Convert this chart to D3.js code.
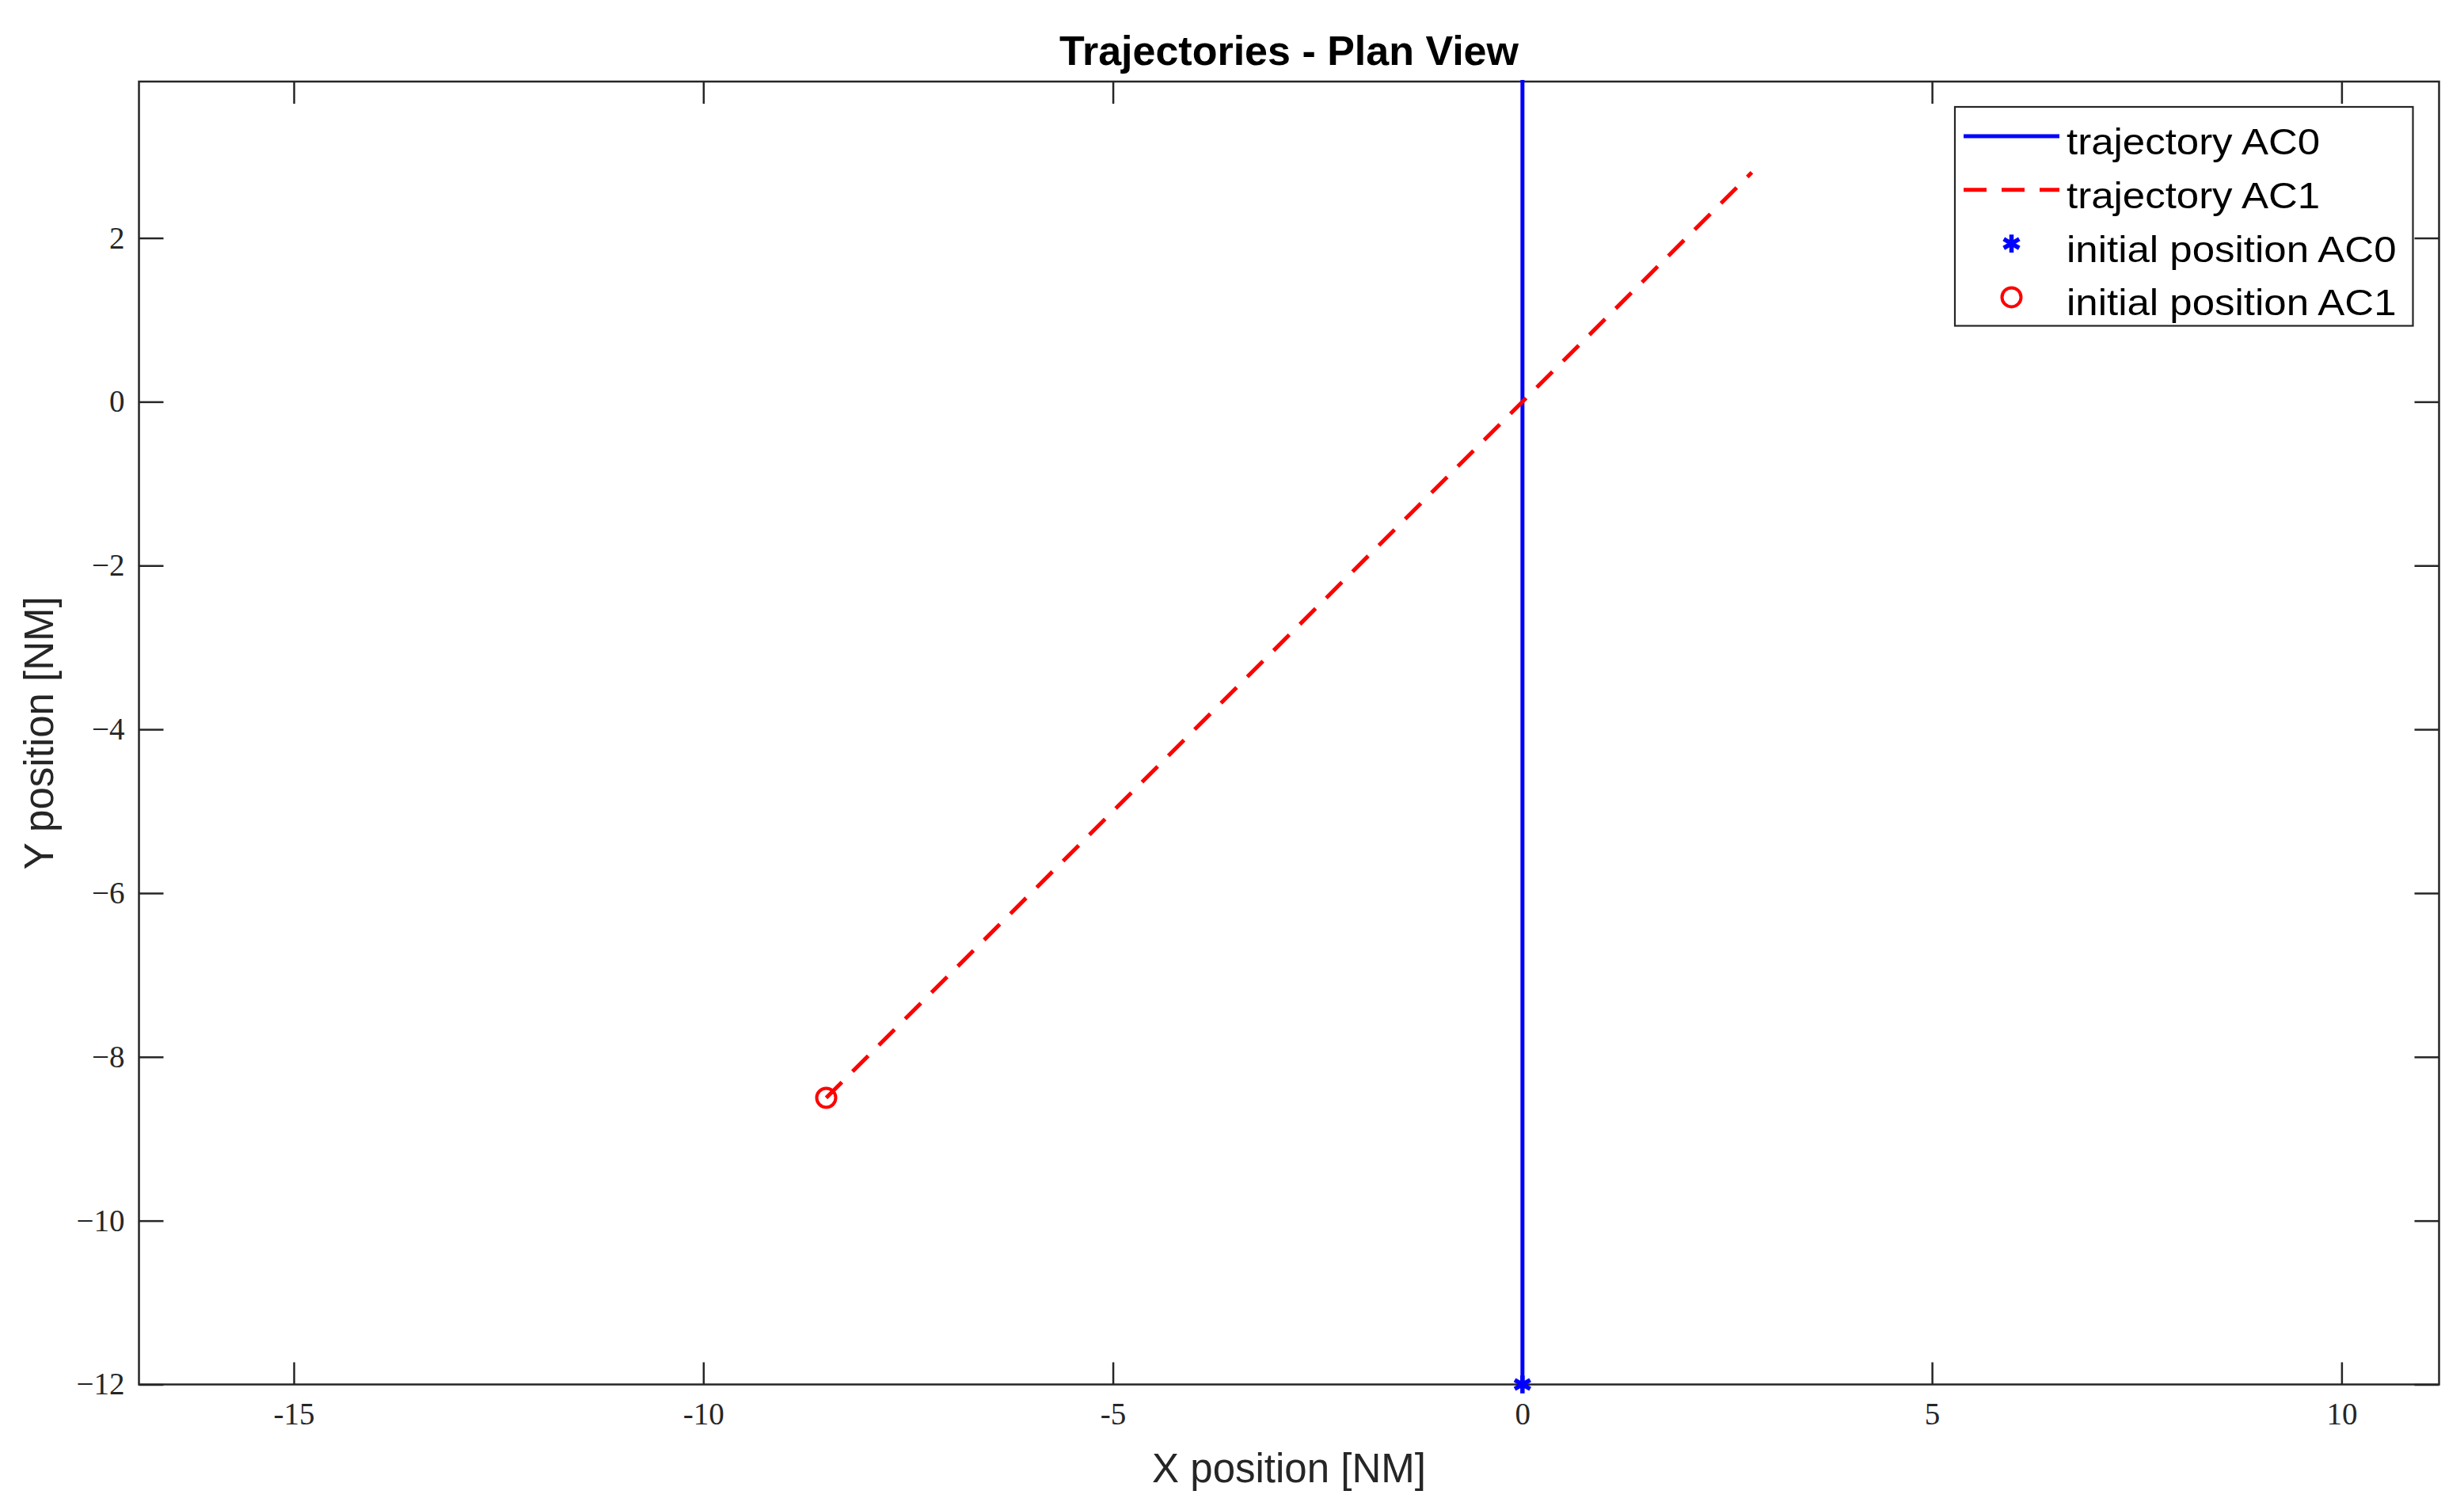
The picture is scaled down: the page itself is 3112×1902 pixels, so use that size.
<!DOCTYPE html>
<html><head><meta charset="utf-8">
<script src="https://cdn.jsdelivr.net/npm/d3@7"></script>
<style>body{margin:0;background:#fff} svg{display:block}</style>
</head><body>
<svg id="c" width="3112" height="1902"></svg>
<script>
// ---- data ----
const chartTitle = "Trajectories - Plan View";
const xLabel = "X position [NM]";
const yLabel = "Y position [NM]";
const xLimits = [-16.89, 11.19];
const yLimits = [-12, 3.91];
const xTicks = [-15, -10, -5, 0, 5, 10];
const yTicks = [-12, -10, -8, -6, -4, -2, 0, 2];
const ac0X = [0, 0];
const ac0Y = [-12, 4];
const ac1X = [-8.5, 2.8];
const ac1Y = [-8.5, 2.8];
const legendLabels = ["trajectory AC0", "trajectory AC1", "initial position AC0", "initial position AC1"];

// ---- layout ----
const m = {left: 175.5, right: 3080.5, top: 103, bottom: 1748.5};
const axisColor = "#262626";
const x = d3.scaleLinear().domain(xLimits).range([m.left, m.right]);
const y = d3.scaleLinear().domain(yLimits).range([m.bottom, m.top]);
const svg = d3.select("#c");

svg.append("rect").attr("width", 3112).attr("height", 1902).attr("fill", "#fff");

const fmtX = d => (d < 0 ? "-" : "") + Math.abs(d);
const fmtY = d => (d < 0 ? "\u2212" : "") + Math.abs(d);

function styleAxis(g) {
  g.select(".domain").remove();
  g.selectAll(".tick line").attr("stroke", axisColor).attr("stroke-width", 2.5);
  g.selectAll(".tick text").attr("fill", axisColor)
    .style("font-family", "'Liberation Serif', 'DejaVu Serif', serif").style("font-size", "39px");
}
svg.append("g").attr("transform", `translate(0,${m.bottom})`)
  .call(d3.axisBottom(x).tickValues(xTicks).tickSize(-28).tickSizeOuter(0).tickPadding(23).tickFormat(fmtX))
  .call(styleAxis);
svg.append("g").attr("transform", `translate(0,${m.top})`)
  .call(d3.axisTop(x).tickValues(xTicks).tickSize(-28).tickSizeOuter(0).tickFormat(""))
  .call(styleAxis);
svg.append("g").attr("transform", `translate(${m.left},0)`)
  .call(d3.axisLeft(y).tickValues(yTicks).tickSize(-31).tickSizeOuter(0).tickPadding(18).tickFormat(fmtY))
  .call(styleAxis);
svg.append("g").attr("transform", `translate(${m.right},0)`)
  .call(d3.axisRight(y).tickValues(yTicks).tickSize(-31).tickSizeOuter(0).tickFormat(""))
  .call(styleAxis);

// frame
svg.append("rect")
  .attr("x", m.left).attr("y", m.top)
  .attr("width", m.right - m.left).attr("height", m.bottom - m.top)
  .attr("fill", "none").attr("stroke", axisColor).attr("stroke-width", 2.5);

// clip
svg.append("clipPath").attr("id", "plotclip").append("rect")
  .attr("x", m.left).attr("y", m.top - 2)
  .attr("width", m.right - m.left).attr("height", m.bottom - m.top + 4);

const line = d3.line().x(d => x(d[0])).y(d => y(d[1]));
const plot = svg.append("g").attr("clip-path", "url(#plotclip)");
plot.append("path").datum(ac0X.map((v, i) => [v, ac0Y[i]]))
  .attr("d", line).attr("fill", "none").attr("stroke", "#0000ff").attr("stroke-width", 5);
plot.append("path").datum(ac1X.map((v, i) => [v, ac1Y[i]]))
  .attr("d", line).attr("fill", "none").attr("stroke", "#ff0000").attr("stroke-width", 5)
  .attr("stroke-dasharray", "28,19");

// markers
const star = d3.symbol().type(d3.symbolAsterisk).size(360);
svg.append("path").attr("d", star())
  .attr("transform", `translate(${x(ac0X[0])},${y(ac0Y[0])})`)
  .attr("fill", "none").attr("stroke", "#0000ff").attr("stroke-width", 5.5);
svg.append("circle").attr("cx", x(ac1X[0])).attr("cy", y(ac1Y[0])).attr("r", 12)
  .attr("fill", "none").attr("stroke", "#ff0000").attr("stroke-width", 4);

// title & labels
svg.append("text").attr("x", (m.left + m.right) / 2).attr("y", 82)
  .attr("text-anchor", "middle").attr("fill", "#000")
  .style("font-family", "'Liberation Sans', Arial, sans-serif").style("font-weight", "bold").style("font-size", "52px")
  .text(chartTitle);
svg.append("text").attr("x", (m.left + m.right) / 2).attr("y", 1872)
  .attr("text-anchor", "middle").attr("fill", axisColor)
  .style("font-family", "'Liberation Sans', Arial, sans-serif").style("font-size", "51px")
  .text(xLabel);
svg.append("text").attr("transform", `translate(67,${(m.top + m.bottom) / 2}) rotate(-90)`)
  .attr("text-anchor", "middle").attr("fill", axisColor)
  .style("font-family", "'Liberation Sans', Arial, sans-serif").style("font-size", "51px")
  .text(yLabel);

// legend
const lg = svg.append("g");
lg.append("rect").attr("x", 2469).attr("y", 135).attr("width", 578.5).attr("height", 276.5)
  .attr("fill", "#fff").attr("stroke", axisColor).attr("stroke-width", 2.2);
const rowY = i => 172 + i * 67.8;
const sx0 = 2480, sx1 = 2601, sxm = 2540.5;
lg.append("line").attr("x1", sx0).attr("x2", sx1).attr("y1", rowY(0)).attr("y2", rowY(0))
  .attr("stroke", "#0000ff").attr("stroke-width", 5);
lg.append("line").attr("x1", sx0).attr("x2", sx1).attr("y1", rowY(1)).attr("y2", rowY(1))
  .attr("stroke", "#ff0000").attr("stroke-width", 5).attr("stroke-dasharray", "29,19");
lg.append("path").attr("d", star()).attr("transform", `translate(${sxm},${rowY(2)})`)
  .attr("fill", "none").attr("stroke", "#0000ff").attr("stroke-width", 5.5);
lg.append("circle").attr("cx", sxm).attr("cy", rowY(3)).attr("r", 12)
  .attr("fill", "none").attr("stroke", "#ff0000").attr("stroke-width", 4);
legendLabels.forEach((t, i) => {
  lg.append("text").attr("transform", `translate(2610,${rowY(i) + 23}) scale(1.085,1)`)
    .attr("fill", "#000")
    .style("font-family", "'Liberation Sans', Arial, sans-serif").style("font-size", "47px")
    .text(t);
});
</script>
</body></html>
